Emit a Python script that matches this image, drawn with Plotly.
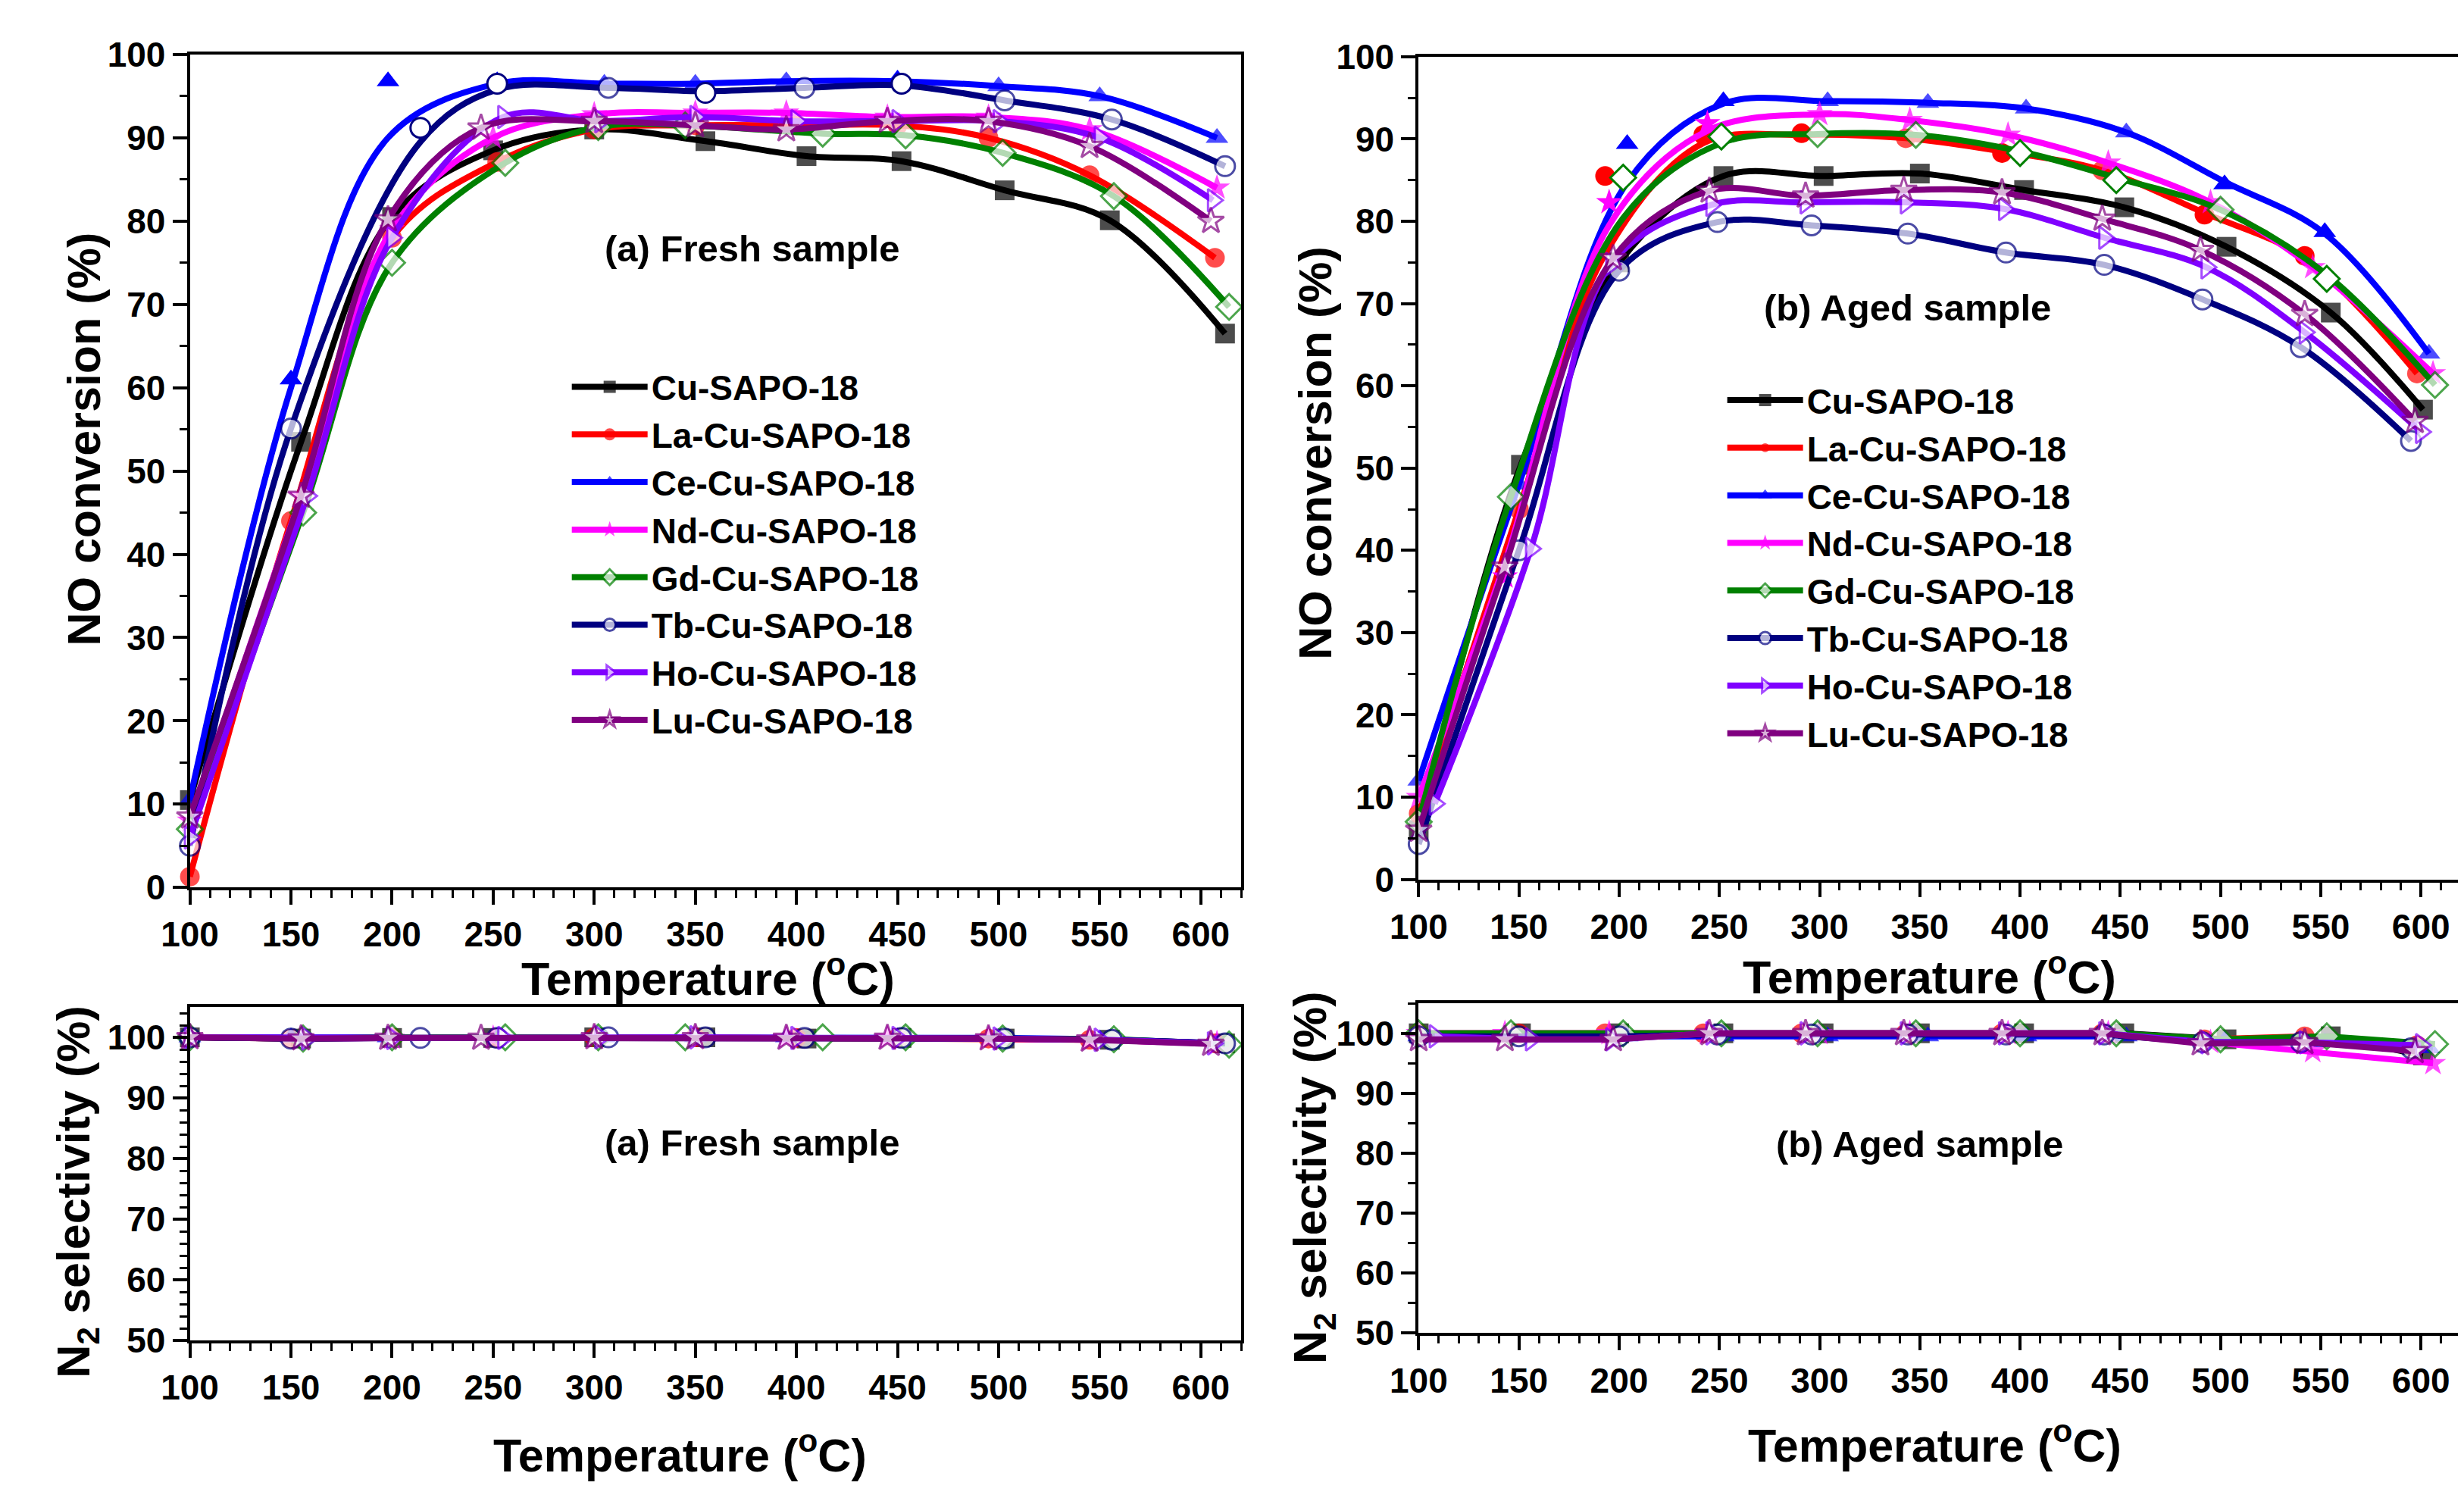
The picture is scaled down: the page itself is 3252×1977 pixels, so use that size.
import plotly.graph_objects as go

W, H = 3252, 1977
FONT = "Liberation Sans, Arial, sans-serif"

# ---------------- data ----------------
series_names = ["Cu-SAPO-18", "La-Cu-SAPO-18", "Ce-Cu-SAPO-18", "Nd-Cu-SAPO-18",
                "Gd-Cu-SAPO-18", "Tb-Cu-SAPO-18", "Ho-Cu-SAPO-18", "Lu-Cu-SAPO-18"]
colors = ["#000000", "#FF0000", "#0000FF", "#FF00FF", "#008000", "#000080", "#8000FF", "#800080"]
symbols = ["square", "circle", "triangle-up", "star", "diamond", "circle", "triangle-right", "star"]
open_marker = [False, False, False, False, True, True, True, True]

x_ticks = [100, 150, 200, 250, 300, 350, 400, 450, 500, 550, 600]

# (a) Fresh sample: temperatures (degC) and NO conversion (%) at the markers
fresh_x_cu = [100, 155, 200, 250, 300, 355, 405, 452, 503, 555, 612]
fresh_x_la = [100, 150, 200, 252, 300, 350, 400, 450, 495, 545, 607]
fresh_x_ce = [100, 150, 198, 252, 305, 350, 395, 450, 500, 550, 608]
fresh_x_nd = [100, 155, 200, 250, 300, 350, 395, 445, 495, 545, 608]
fresh_x_gd = [100, 156, 200, 256, 302, 345, 413, 454, 502, 557, 614]
fresh_x_tb = [100, 150, 214, 252, 307, 355, 404, 452, 503, 556, 612]
fresh_x_ho = [100, 158, 200, 255, 303, 350, 400, 450, 500, 550, 606]
fresh_x_lu = [100, 155, 198, 244, 300, 350, 395, 445, 495, 545, 605]

fresh_no_cu = [10.5, 53.5, 80.5, 88.5, 91.0, 89.6, 87.8, 87.2, 83.7, 80.1, 66.5]
fresh_no_la = [1.3, 44.0, 78.0, 87.1, 91.0, 91.5, 91.5, 91.5, 90.0, 85.5, 75.6]
fresh_no_ce = [10.5, 61.0, 96.8, 96.8, 96.5, 96.5, 96.8, 97.0, 96.2, 95.0, 90.0]
fresh_no_nd = [8.0, 47.0, 79.0, 90.0, 92.8, 93.0, 93.0, 92.5, 92.5, 91.0, 84.0]
fresh_no_gd = [7.0, 45.0, 75.0, 87.0, 91.3, 91.5, 90.5, 90.3, 88.2, 83.0, 69.7]
fresh_no_tb = [5.0, 55.1, 91.2, 96.5, 96.0, 95.4, 96.0, 96.5, 94.5, 92.2, 86.6]
fresh_no_ho = [6.0, 47.0, 78.0, 92.5, 92.0, 92.5, 92.0, 92.0, 92.0, 90.0, 82.5]
fresh_no_lu = [8.5, 47.0, 80.2, 91.2, 92.0, 91.5, 91.0, 92.0, 92.0, 89.0, 80.0]

fresh_curve_ce = [10.5, 60.0, 90.0, 96.5, 96.5, 96.5, 96.8, 96.8, 96.2, 95.0, 90.0]
fresh_curve_tb = [5.0, 55.1, 89.5, 95.8, 96.0, 95.6, 96.0, 96.3, 94.5, 92.2, 86.6]

# (b) Aged sample: temperatures (degC) and NO conversion (%) at the markers
aged_x_cu = [100, 151, 200, 252, 302, 350, 402, 452, 503, 555, 601]
aged_x_la = [100, 150, 193, 242, 291, 343, 391, 441, 492, 542, 598]
aged_x_ce = [100, 150, 204, 252, 304, 354, 403, 453, 502, 552, 604]
aged_x_nd = [100, 143, 195, 244, 300, 345, 394, 444, 495, 546, 606]
aged_x_gd = [100, 146, 202, 251, 299, 348, 400, 448, 500, 553, 607]
aged_x_tb = [100, 150, 200, 249, 296, 344, 393, 442, 491, 540, 595]
aged_x_ho = [108, 156, 196, 246, 293, 343, 392, 442, 493, 542, 600]
aged_x_lu = [100, 143, 197, 245, 293, 342, 391, 441, 490, 542, 597]

aged_no_cu = [6.0, 50.4, 75.0, 85.5, 85.5, 85.8, 83.8, 81.7, 76.9, 68.9, 57.1]
aged_no_la = [8.0, 45.0, 85.5, 90.5, 90.7, 90.1, 88.3, 86.2, 80.8, 75.8, 61.5]
aged_no_ce = [12.0, 48.0, 89.4, 94.6, 94.6, 94.4, 93.7, 90.8, 84.5, 78.7, 63.9]
aged_no_nd = [10.0, 36.8, 82.3, 91.9, 93.0, 92.3, 90.5, 87.1, 82.3, 74.4, 61.5]
aged_no_gd = [7.0, 46.5, 85.3, 90.3, 90.6, 90.5, 88.3, 85.0, 81.4, 73.0, 60.1]
aged_no_tb = [4.3, 40.0, 74.0, 79.9, 79.5, 78.5, 76.2, 74.7, 70.5, 64.7, 53.3]
aged_no_ho = [9.2, 40.2, 74.8, 82.0, 82.3, 82.3, 81.5, 78.0, 74.4, 66.5, 54.4]
aged_no_lu = [6.0, 38.0, 75.5, 83.7, 83.1, 83.8, 83.5, 80.3, 76.5, 68.7, 55.7]

aged_curve_la = [8.0, 45.0, 76.0, 89.5, 90.5, 90.1, 88.5, 86.2, 81.0, 75.5, 61.5]
aged_curve_ce = [12.0, 48.0, 84.7, 94.3, 94.6, 94.4, 93.7, 90.8, 84.8, 78.5, 63.9]
aged_curve_nd = [10.0, 38.5, 79.5, 91.0, 93.0, 92.3, 90.5, 87.1, 82.3, 74.4, 61.5]
aged_curve_gd = [7.0, 46.5, 80.4, 89.5, 90.6, 90.5, 88.5, 85.3, 81.4, 73.5, 60.1]

# N2 selectivity (%)
fresh_n2_cu = [100.0, 99.8, 99.9, 99.9, 100.0, 100.0, 99.8, 99.9, 99.8, 99.6, 99.0]
fresh_n2_la = [100.0, 99.8, 100.0, 99.9, 100.0, 100.0, 99.9, 99.9, 99.8, 99.6, 99.0]
fresh_n2_ce = [100.0, 100.0, 100.0, 100.0, 100.0, 100.0, 100.0, 100.0, 99.9, 99.7, 99.0]
fresh_n2_nd = [100.0, 99.8, 99.9, 99.9, 100.0, 100.0, 99.9, 99.9, 99.8, 99.6, 99.0]
fresh_n2_gd = [100.0, 99.8, 100.0, 100.0, 100.0, 100.0, 100.0, 100.0, 99.8, 99.7, 98.8]
fresh_n2_tb = [100.0, 99.8, 99.9, 99.9, 100.0, 100.0, 99.9, 99.9, 99.8, 99.6, 99.0]
fresh_n2_ho = [100.0, 99.8, 99.9, 99.9, 100.0, 100.0, 99.9, 99.9, 99.8, 99.6, 99.0]
fresh_n2_lu = [100.0, 99.8, 99.9, 99.9, 100.0, 100.0, 99.9, 99.9, 99.8, 99.6, 98.9]

aged_n2_cu = [100.0, 100.0, 100.0, 100.0, 100.0, 100.0, 100.0, 100.0, 99.0, 99.5, 96.3]
aged_n2_la = [100.0, 100.0, 100.0, 100.0, 100.0, 100.0, 100.0, 100.0, 99.0, 99.5, 98.0]
aged_n2_ce = [99.5, 99.5, 99.5, 99.5, 99.5, 99.5, 99.5, 99.5, 98.8, 98.5, 97.5]
aged_n2_nd = [100.0, 100.0, 100.0, 100.0, 100.0, 100.0, 100.0, 100.0, 98.5, 97.0, 95.0]
aged_n2_gd = [100.0, 100.0, 100.0, 100.0, 100.0, 100.0, 100.0, 100.0, 99.0, 99.5, 98.2]
aged_n2_tb = [99.5, 99.5, 99.5, 99.8, 99.8, 99.8, 99.8, 99.8, 98.5, 98.5, 97.5]
aged_n2_ho = [99.5, 99.0, 99.0, 100.0, 100.0, 100.0, 100.0, 100.0, 98.5, 98.5, 98.0]
aged_n2_lu = [99.0, 99.0, 99.0, 100.0, 100.0, 100.0, 100.0, 100.0, 98.3, 98.5, 97.0]

fresh_x = [fresh_x_cu, fresh_x_la, fresh_x_ce, fresh_x_nd, fresh_x_gd, fresh_x_tb, fresh_x_ho, fresh_x_lu]
aged_x = [aged_x_cu, aged_x_la, aged_x_ce, aged_x_nd, aged_x_gd, aged_x_tb, aged_x_ho, aged_x_lu]
fresh_no = [fresh_no_cu, fresh_no_la, fresh_no_ce, fresh_no_nd, fresh_no_gd, fresh_no_tb, fresh_no_ho, fresh_no_lu]
aged_no = [aged_no_cu, aged_no_la, aged_no_ce, aged_no_nd, aged_no_gd, aged_no_tb, aged_no_ho, aged_no_lu]
fresh_curve = [fresh_no_cu, fresh_no_la, fresh_curve_ce, fresh_no_nd, fresh_no_gd, fresh_curve_tb, fresh_no_ho, fresh_no_lu]
aged_curve = [aged_no_cu, aged_curve_la, aged_curve_ce, aged_curve_nd, aged_curve_gd, aged_no_tb, aged_no_ho, aged_no_lu]
fresh_n2 = [fresh_n2_cu, fresh_n2_la, fresh_n2_ce, fresh_n2_nd, fresh_n2_gd, fresh_n2_tb, fresh_n2_ho, fresh_n2_lu]
aged_n2 = [aged_n2_cu, aged_n2_la, aged_n2_ce, aged_n2_nd, aged_n2_gd, aged_n2_tb, aged_n2_ho, aged_n2_lu]

MS = 26  # marker size (px)

# ---------------- figure ----------------
fig = go.Figure()


def marker_for(i, size):
    if open_marker[i]:
        return dict(symbol=symbols[i], size=size, color="white",
                    line=dict(color=colors[i], width=3))
    return dict(symbol=symbols[i], size=size, color=colors[i],
                line=dict(color=colors[i], width=0))


panels = [
    ("x", "y", fresh_x, fresh_curve, fresh_no, "spline", "legend", True, "f"),
    ("x2", "y2", aged_x, aged_curve, aged_no, "spline", "legend2", True, "a"),
    ("x3", "y3", fresh_x, fresh_n2, fresh_n2, "linear", None, False, "fn"),
    ("x4", "y4", aged_x, aged_n2, aged_n2, "linear", None, False, "an"),
]
for xa, ya, xs, curves, marks, shape, leg, show, tag in panels:
    for i, name in enumerate(series_names):
        grp = tag + str(i)
        # symbol hidden where the fitted curve does not pass through the measured point
        sizes = [MS if c == m else 0 for c, m in zip(curves[i], marks[i])]
        kw = dict(x=xs[i], y=curves[i], name=name, xaxis=xa, yaxis=ya,
                  mode="lines+markers", legendgroup=grp,
                  line=dict(color=colors[i], width=8, shape=shape, smoothing=1.0),
                  marker=marker_for(i, sizes),
                  showlegend=show, cliponaxis=False, hoverinfo="skip")
        if leg:
            kw["legend"] = leg
        fig.add_trace(go.Scatter(**kw))
        off = [k for k in range(len(sizes)) if sizes[k] == 0]
        if off:
            kw2 = dict(x=[xs[i][k] for k in off], y=[marks[i][k] for k in off], name=name,
                       xaxis=xa, yaxis=ya, mode="markers", legendgroup=grp,
                       marker=marker_for(i, MS), showlegend=False, cliponaxis=False)
            if leg:
                kw2["legend"] = leg
            fig.add_trace(go.Scatter(**kw2))


def px_x(p):
    return p / W


def px_y(p):
    return 1 - p / H


tickfont = dict(family=FONT, size=46, color="black", weight="bold")
axis_common = dict(showline=True, linecolor="black", linewidth=4, mirror=True,
                   ticks="outside", ticklen=19, tickwidth=4, tickcolor="black",
                   showgrid=False, zeroline=False, tickfont=tickfont)


def minor(dt, t0):
    return dict(dtick=dt, tick0=t0, ticklen=10, tickwidth=3, ticks="outside", tickcolor="black")


xdom_l = [px_x(207), px_x(1611)]
xdom_r = [px_x(1848), px_x(3240)]

legend_font = dict(family=FONT, size=46, color="black", weight="bold")

fig.update_layout(
    width=W, height=H, paper_bgcolor="white", plot_bgcolor="white",
    margin=dict(l=0, r=0, t=0, b=0),
    xaxis=dict(domain=xdom_l, range=[100, 620], tickvals=x_ticks, anchor="y",
               minor=minor(10, 100), **axis_common),
    yaxis=dict(domain=[px_y(1168), px_y(39)], range=[0, 100], dtick=10, anchor="x",
               minor=minor(5, 0), **axis_common),
    xaxis2=dict(domain=xdom_r, range=[100, 620], tickvals=x_ticks, anchor="y2",
                minor=minor(10, 100), **axis_common),
    yaxis2=dict(domain=[px_y(1157), px_y(42)], range=[0, 100], dtick=10, anchor="x2",
                minor=minor(5, 0), **axis_common),
    xaxis3=dict(domain=xdom_l, range=[100, 620], tickvals=x_ticks, anchor="y3",
                minor=minor(10, 100), **axis_common),
    yaxis3=dict(domain=[px_y(1782), px_y(1330)], range=[50, 105], tickvals=[50, 60, 70, 80, 90, 100],
                anchor="x3", minor=minor(2, 50), **axis_common),
    xaxis4=dict(domain=xdom_r, range=[100, 620], tickvals=x_ticks, anchor="y4",
                minor=minor(10, 100), **axis_common),
    yaxis4=dict(domain=[px_y(1772), px_y(1325)], range=[50, 105], tickvals=[50, 60, 70, 80, 90, 100],
                anchor="x4", minor=minor(5, 50), **axis_common),
    legend=dict(x=px_x(712), y=px_y(452), xanchor="left", yanchor="top",
                font=legend_font, itemwidth=100, itemsizing="trace",
                bgcolor="rgba(0,0,0,0)", tracegroupgap=0),
    legend2=dict(x=px_x(2255), y=px_y(470), xanchor="left", yanchor="top",
                 font=legend_font, itemwidth=100, itemsizing="trace",
                 bgcolor="rgba(0,0,0,0)", tracegroupgap=0),
)

title_font = dict(family=FONT, size=61, color="black", weight="bold")
label_font = dict(family=FONT, size=49, color="black", weight="bold")
xtitle = "Temperature (<sup>o</sup>C)"
annotations = [
    (xtitle, 899, 1287, 0, title_font),
    (xtitle, 2530, 1285, 0, title_font),
    (xtitle, 862, 1933, 0, title_font),
    (xtitle, 2537, 1920, 0, title_font),
    ("NO conversion (%)", 66, 560, -90, title_font),
    ("NO conversion (%)", 1710, 579, -90, title_font),
    ("N<sub>2</sub> selectivity (%)", 56, 1580, -90, title_font),
    ("N<sub>2</sub> selectivity (%)", 1708, 1561, -90, title_font),
    ("(a) Fresh sample", 958, 302, 0, label_font),
    ("(b) Aged sample", 2501, 382, 0, label_font),
    ("(a) Fresh sample", 958, 1514, 0, label_font),
    ("(b) Aged sample", 2517, 1516, 0, label_font),
]
for text, ax_, ay_, ang, f in annotations:
    fig.add_annotation(text=text, x=px_x(ax_), y=px_y(ay_), xref="paper", yref="paper",
                       xanchor="center", yanchor="middle", showarrow=False,
                       textangle=ang, font=f)

fig.write_html("out.html")
